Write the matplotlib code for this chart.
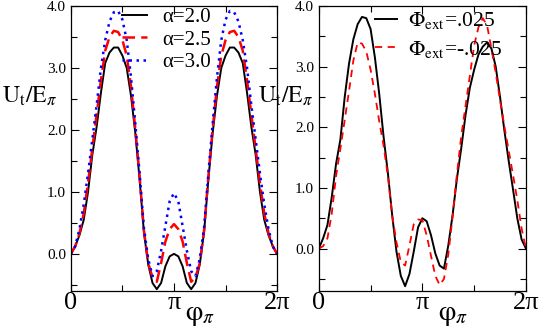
import numpy as np
import matplotlib
matplotlib.use("Agg")
import matplotlib.pyplot as plt
from matplotlib.ticker import MultipleLocator, FixedLocator

plt.rcParams['font.family'] = ['Liberation Serif', 'DejaVu Serif']
plt.rcParams['mathtext.fontset'] = 'stix'

# phase grid (49 samples from 0 to 2pi)
phi = np.linspace(0, 2 * np.pi, 49)

# left panel: U_t/E_pi for three alpha values
u_a20 = [0.0, 0.12, 0.3, 0.55, 1.0, 1.6, 2.05, 2.6, 3.08, 3.25, 3.33, 3.33, 3.2,
         3.0, 2.55, 1.95, 1.2, 0.35, -0.17, -0.47, -0.57, -0.47, -0.2, -0.04, 0.0,
         -0.04, -0.2, -0.47, -0.57, -0.47, -0.17, 0.35, 1.2, 1.95, 2.55, 3.0, 3.2,
         3.33, 3.33, 3.25, 3.08, 2.6, 2.05, 1.6, 1.0, 0.55, 0.3, 0.12, 0.0]
u_a25 = [0.0, 0.12, 0.33, 0.65, 1.15, 1.7, 2.25, 2.8, 3.28, 3.5, 3.6, 3.58, 3.45,
         3.2, 2.7, 2.02, 1.25, 0.38, -0.15, -0.38, -0.45, -0.15, 0.2, 0.4, 0.48,
         0.4, 0.2, -0.15, -0.45, -0.38, -0.15, 0.38, 1.25, 2.02, 2.7, 3.2, 3.45,
         3.58, 3.6, 3.5, 3.28, 2.8, 2.25, 1.7, 1.15, 0.65, 0.33, 0.12, 0.0]
u_a30 = [0.0, 0.12, 0.4, 0.8, 1.3, 1.85, 2.4, 3.0, 3.45, 3.75, 3.9, 3.92, 3.78,
         3.45, 2.85, 2.1, 1.3, 0.42, -0.08, -0.36, -0.28, 0.05, 0.45, 0.85, 0.98,
         0.85, 0.45, 0.05, -0.28, -0.36, -0.08, 0.42, 1.3, 2.1, 2.85, 3.45, 3.78,
         3.92, 3.9, 3.75, 3.45, 3.0, 2.4, 1.85, 1.3, 0.8, 0.4, 0.12, 0.0]

# right panel: two flux values
u_fp = [0.0, 0.17, 0.39, 0.85, 1.4, 1.8, 2.5, 3.05, 3.45, 3.7, 3.82, 3.8, 3.62,
        3.15, 2.55, 1.85, 1.25, 0.55, -0.05, -0.45, -0.62, -0.42, -0.05, 0.35, 0.5,
        0.45, 0.22, -0.08, -0.28, -0.33, 0.05, 0.55, 1.15, 1.65, 2.2, 2.65, 2.95,
        3.2, 3.33, 3.4, 3.3, 3.0, 2.5, 1.95, 1.45, 0.98, 0.5, 0.15, 0.0]
u_fm = [0.0, 0.04, 0.17, 0.58, 1.2, 1.65, 2.12, 2.6, 3.1, 3.4, 3.38, 3.25, 2.95,
        2.55, 2.1, 1.7, 1.2, 0.55, 0.1, -0.22, -0.28, 0.05, 0.4, 0.48, 0.47,
        0.22, -0.12, -0.45, -0.6, -0.5, -0.1, 0.52, 1.22, 1.85, 2.35, 2.85, 3.35,
        3.65, 3.8, 3.68, 3.3, 2.9, 2.45, 2.02, 1.62, 1.22, 0.8, 0.33, 0.0]

xtick_pos = [0, np.pi, 2 * np.pi]
xtick_lab = ['0', '\u03c0', '2\u03c0']
ylab = r'$\mathrm{U}_\mathrm{t}/\mathrm{E}_\pi$'
xlab = r'$\mathrm{\varphi}_\pi$'

fig = plt.figure(figsize=(5.45, 3.27), dpi=100)
ax1 = fig.add_axes([0.130, 0.110, 0.3785, 0.8716])
ax2 = fig.add_axes([0.585, 0.110, 0.380, 0.8716])

ax1.plot(phi, u_a20, color='black', lw=1.4, label='\u03b1=2.0')
ax1.plot(phi, u_a25, color='red', lw=1.8, linestyle=(0, (5, 2.5)), label='\u03b1=2.5')
ax1.plot(phi, u_a30, color='blue', lw=1.8, linestyle=(0, (1, 1.8)), label='\u03b1=3.0')
ax1.set_ylim(-0.6, 4.0)

ax2.plot(phi, u_fp, color='black', lw=1.4, label=r'$\Phi_{\mathrm{ext}}$=.025')
ax2.plot(phi, u_fm, color='red', lw=1.3, linestyle=(0, (4, 3)), label=r'$\Phi_{\mathrm{ext}}$=-.025')
ax2.set_ylim(-0.7, 4.0)

for ax in (ax1, ax2):
    ax.set_xlim(0, 2 * np.pi)
    ax.xaxis.set_major_locator(FixedLocator(xtick_pos))
    ax.set_xticklabels(xtick_lab, fontsize=19)
    ax.xaxis.set_minor_locator(FixedLocator([np.pi / 2, 3 * np.pi / 2]))
    ax.yaxis.set_minor_locator(MultipleLocator(0.5))
    ax.set_yticks([0, 1, 2, 3, 4])
    ax.set_yticklabels(['0.0', '1.0', '2.0', '3.0', '4.0'], fontsize=11)
    ax.tick_params(which='both', direction='in', top=True, right=True, width=0.8)
    ax.tick_params(which='major', length=6)
    ax.tick_params(which='minor', length=4)
    ax.tick_params(axis='x', pad=1)
    for s in ax.spines.values():
        s.set_linewidth(0.9)

ax1.text(-0.335, 0.66, ylab, transform=ax1.transAxes, fontsize=17, ha='left', va='baseline')
ax2.text(-0.295, 0.66, ylab, transform=ax2.transAxes, fontsize=17, ha='left', va='baseline')

ax1.text(0.555, -0.085, xlab, transform=ax1.transAxes, fontsize=20, ha='left', va='center')
ax2.text(0.575, -0.085, xlab, transform=ax2.transAxes, fontsize=20, ha='left', va='center')

ax1.legend(loc='upper left', bbox_to_anchor=(0.25, 0.995), frameon=False, fontsize=15,
           handlelength=1.2, handletextpad=0.7, labelspacing=0.15, borderaxespad=0,
           borderpad=0)
ax2.legend(loc='upper left', bbox_to_anchor=(0.27, 0.985), frameon=False, fontsize=15.5,
           handlelength=1.05, handletextpad=0.5, labelspacing=0.35, borderaxespad=0,
           borderpad=0)

fig.savefig('out.png', dpi=100)
